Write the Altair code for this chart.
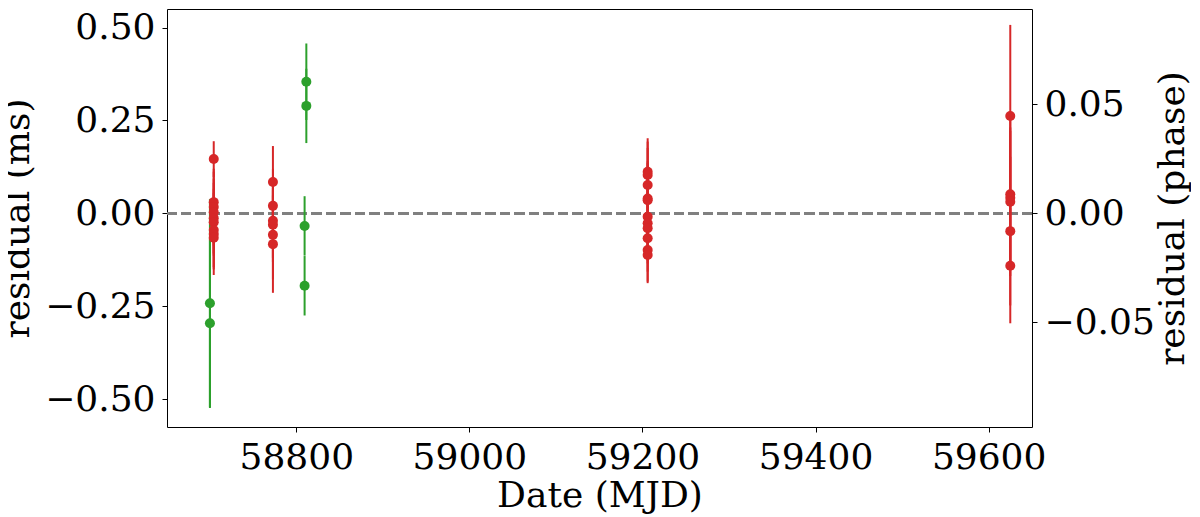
import altair as alt
import pandas as pd

PERIOD_MS = 5.866

# Green series (MJD, residual ms, error ms)
green_mjd = [58700.2, 58700.2, 58811.6, 58811.6, 58809.6, 58809.6]
green_res = [-0.242, -0.296, 0.354, 0.289, -0.034, -0.195]
green_err = [0.280, 0.228, 0.103, 0.100, 0.080, 0.080]

# Red series
red_mjd = [58704.6] * 9 + [58773.0] * 6 + [59206.0] * 11 + [59625.0] * 6
red_res = [0.146, 0.030, 0.017, 0.003, -0.013, -0.024, -0.045, -0.056, -0.066,
           0.084, 0.020, -0.020, -0.031, -0.058, -0.083,
           0.112, 0.103, 0.076, 0.040, 0.035, -0.009, -0.027, -0.040, -0.067, -0.099, -0.112,
           0.262, 0.051, 0.042, 0.031, -0.048, -0.141]
red_err = [0.048, 0.090, 0.095, 0.090, 0.095, 0.090, 0.100, 0.095, 0.100,
           0.097, 0.100, 0.100, 0.100, 0.120, 0.131,
           0.090, 0.090, 0.100, 0.100, 0.100, 0.095, 0.100, 0.095, 0.090, 0.085, 0.076,
           0.245, 0.200, 0.180, 0.200, 0.200, 0.155]

x_ticks = [58800, 59000, 59200, 59400, 59600]
y_ticks = [-0.5, -0.25, 0.0, 0.25, 0.5]
phase_ticks = [-0.05, 0.0, 0.05]

rows = []
for m, r, e in zip(green_mjd, green_res, green_err):
    rows.append(dict(mjd=m, res=r, lo=r - e, hi=r + e, grp="green"))
for m, r, e in zip(red_mjd, red_res, red_err):
    rows.append(dict(mjd=m, res=r, lo=r - e, hi=r + e, grp="red"))
df = pd.DataFrame(rows)
df["phase"] = df["res"] / PERIOD_MS

FONT = "DejaVu Serif"
y_lo, y_hi = -0.5751, 0.5498

xenc = alt.X("mjd:Q",
             scale=alt.Scale(domain=[58650.6, 59650.1], nice=False, zero=False),
             axis=alt.Axis(values=x_ticks, format="d", title="Date (MJD)",
                           labelPadding=8, titlePadding=3))
yscale = alt.Scale(domain=[y_lo, y_hi], nice=False, zero=False)
yaxis = alt.Axis(values=y_ticks, format=".2f", title="residual (ms)", orient="left",
                 labelPadding=7, titlePadding=8)
color = alt.Color("grp:N", scale=alt.Scale(domain=["green", "red"],
                                           range=["#2ca02c", "#d62728"]), legend=None)

base = alt.Chart(df)

zero = base.mark_rule(color="#808080", strokeDash=[10, 4.5], strokeWidth=2).encode(
    y=alt.Y(datum=0, scale=yscale, axis=yaxis)
)
bars = base.mark_rule(strokeWidth=2).encode(
    x=xenc,
    y=alt.Y("lo:Q", scale=yscale, axis=yaxis),
    y2="hi:Q",
    color=color,
)
pts = base.mark_circle(size=100, opacity=1).encode(
    x=xenc,
    y=alt.Y("res:Q", scale=yscale, axis=yaxis),
    color=color,
)
left = alt.layer(zero, bars, pts)

right = base.mark_circle(opacity=0).encode(
    x=xenc,
    y=alt.Y("phase:Q",
            scale=alt.Scale(domain=[y_lo / PERIOD_MS, y_hi / PERIOD_MS], nice=False, zero=False),
            axis=alt.Axis(values=phase_ticks, format=".2f", title="residual (phase)",
                          orient="right", labelPadding=7, titlePadding=1,
                          titleAngle=270, titleBaseline="top")),
)

chart = alt.layer(left, right).resolve_scale(y="independent").properties(
    width=865,
    height=418,
    autosize=alt.AutoSizeParams(type="none"),
    padding={"left": 159, "top": 1, "right": 159, "bottom": 88},
).configure_view(
    stroke="black", strokeWidth=1
).configure_axis(
    labelFont=FONT, titleFont=FONT, labelFontSize=36, titleFontSize=36,
    titleFontWeight="normal", labelColor="black", titleColor="black",
    tickColor="black", tickSize=5, tickWidth=1, domain=False, grid=False,
)

chart.save("out.html", embed_options={"renderer": "svg", "actions": False})
